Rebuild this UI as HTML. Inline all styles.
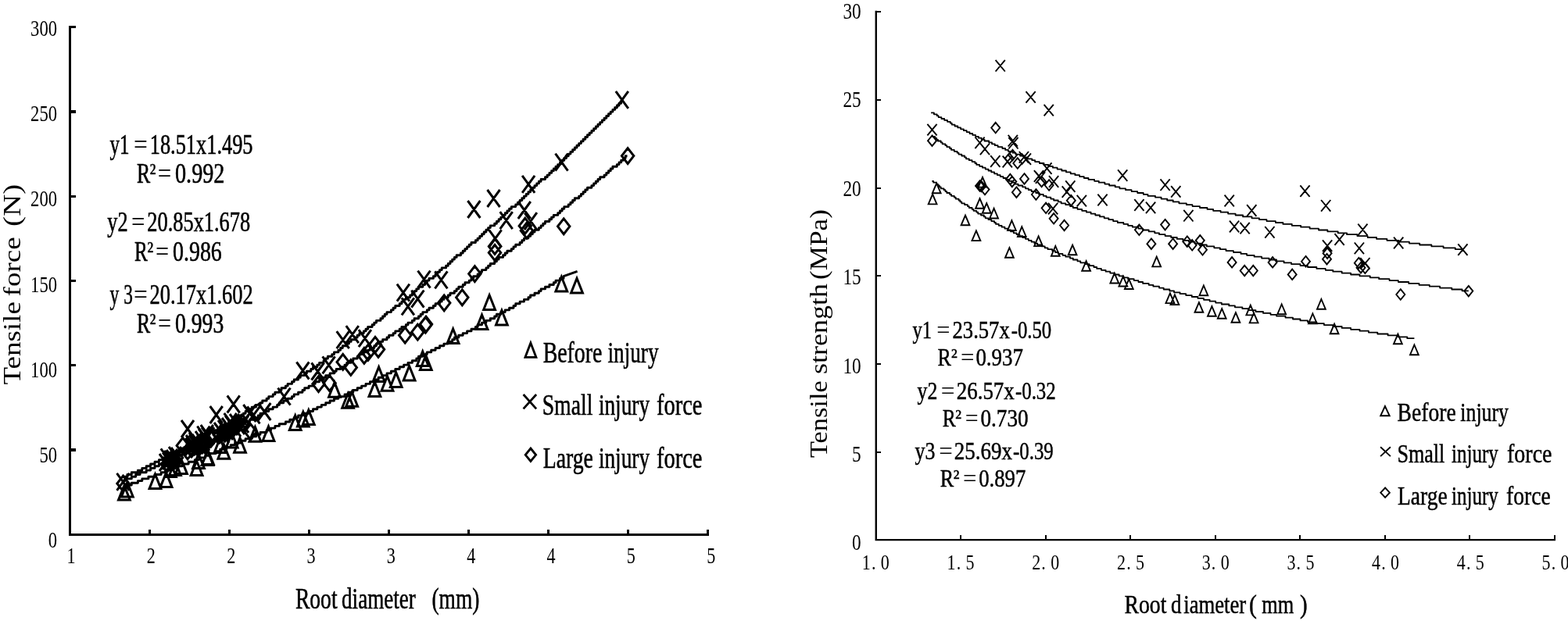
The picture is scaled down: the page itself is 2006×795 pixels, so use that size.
<!DOCTYPE html>
<html lang="en"><head><meta charset="utf-8"><title>Root tensile force and strength</title>
<style>html,body{margin:0;padding:0;background:#fff;overflow:hidden}svg{display:block}text{font-family:"Liberation Serif",serif;fill:#000}</style>
</head><body>
<svg width="2006" height="795" viewBox="0 0 2006 795">
<rect width="2006" height="795" fill="#fff"/>
<g id="left">
<path d="M89.3 33.1V684.3H907" fill="none" stroke="#000" stroke-width="3.2" shape-rendering="crispEdges"/>
<path d="M89.3 684.3H96.8M89.3 576.0H96.8M89.3 467.8H96.8M89.3 359.5H96.8M89.3 251.2H96.8M89.3 142.9H96.8M89.3 34.7H96.8M191.3 684.3V678.3M293.3 684.3V678.3M395.3 684.3V678.3M497.3 684.3V678.3M599.3 684.3V678.3M701.3 684.3V678.3M803.3 684.3V678.3M905.3 684.3V678.3" fill="none" stroke="#000" stroke-width="3.2" shape-rendering="crispEdges"/>
<path d="M157.5 623.7H160.2V621.0H168.3V618.3H176.4V615.6H181.8V612.9H189.9V610.2H198.0V607.5H206.1V604.8H211.5V602.1H219.6V599.4H227.7V596.7H233.1V594.0H241.2V591.3H249.3V588.6H254.7V585.9H262.8V583.2H268.2V580.5H276.3V577.8H281.7V575.1H289.8V572.4H295.2V569.7H300.6V567.0H308.7V564.3H314.1V561.6H322.2V558.9H327.6V556.2H333.0V553.5H341.1V550.8H346.5V548.1H351.9V545.4H357.3V542.7H365.4V540.0H370.8V537.3H376.2V534.6H381.6V531.9H387.0V529.2H395.1V526.5H400.5V523.8H405.9V521.1H411.3V518.4H416.7V515.7H422.1V513.0H427.5V510.3H432.9V507.6H441.0V504.9H446.4V502.2H451.8V499.5H457.2V496.8H462.6V494.1H468.0V491.4H473.4V488.7H478.8V486.0H484.2V483.3H489.6V480.6H495.0V477.9H500.4V475.2H505.8V472.5H511.2V469.8H516.6V467.1H522.0V464.4H527.4V461.7H532.8V459.0H535.5V456.3H540.9V453.6H546.3V450.9H551.7V448.2H557.1V445.5H562.5V442.8H567.9V440.1H573.3V437.4H578.7V434.7H581.4V432.0H586.8V429.3H592.2V426.6H597.6V423.9H603.0V421.2H608.4V418.5H611.1V415.8H616.5V413.1H621.9V410.4H627.3V407.7H632.7V405.0H635.4V402.3H640.8V399.6H646.2V396.9H651.6V394.2H657.0V391.5H659.7V388.8H665.1V386.1H670.5V383.4H675.9V380.7H678.6V378.0H684.0V375.3H689.4V372.6H692.1V369.9H697.5V367.2H702.9V364.5H708.3V361.8H711.0V359.1H716.4V356.4H721.0V353.7H721.0L738.6 347.3M157.5 610.2H162.9V607.5H168.3V604.8H176.4V602.1H181.8V599.4H187.2V596.7H192.6V594.0H198.0V591.3H203.4V588.6H208.8V585.9H214.2V583.2H219.6V580.5H225.0V577.8H230.4V575.1H235.8V572.4H238.5V569.7H243.9V567.0H249.3V564.3H254.7V561.6H260.1V558.9H262.8V556.2H268.2V553.5H273.6V550.8H279.0V548.1H281.7V545.4H287.1V542.7H292.5V540.0H297.9V537.3H300.6V534.6H306.0V531.9H311.4V529.2H314.1V526.5H319.5V523.8H322.2V521.1H327.6V518.4H333.0V515.7H335.7V513.0H341.1V510.3H343.8V507.6H349.2V504.9H351.9V502.2H357.3V499.5H360.0V496.8H365.4V494.1H368.1V491.4H373.5V488.7H376.2V486.0H381.6V483.3H384.3V480.6H389.7V477.9H392.4V475.2H397.8V472.5H400.5V469.8H405.9V467.1H408.6V464.4H414.0V461.7H416.7V459.0H419.4V456.3H424.8V453.6H427.5V450.9H432.9V448.2H435.6V445.5H438.3V442.8H443.7V440.1H446.4V437.4H449.1V434.7H454.5V432.0H457.2V429.3H459.9V426.6H465.3V423.9H468.0V421.2H470.7V418.5H476.1V415.8H478.8V413.1H481.5V410.4H486.9V407.7H489.6V405.0H492.3V402.3H495.0V399.6H500.4V396.9H503.1V394.2H505.8V391.5H511.2V388.8H513.9V386.1H516.6V383.4H519.3V380.7H524.7V378.0H527.4V375.3H530.1V372.6H532.8V369.9H535.5V367.2H540.9V364.5H543.6V361.8H546.3V359.1H549.0V356.4H554.4V353.7H557.1V351.0H559.8V348.3H562.5V345.6H565.2V342.9H570.6V340.2H573.3V337.5H576.0V334.8H578.7V332.1H581.4V329.4H584.1V326.7H589.5V324.0H592.2V321.3H594.9V318.6H597.6V315.9H600.3V313.2H603.0V310.5H608.4V307.8H611.1V305.1H613.8V302.4H616.5V299.7H619.2V297.0H621.9V294.3H624.6V291.6H627.3V288.9H632.7V286.2H635.4V283.5H638.1V280.8H640.8V278.1H643.5V275.4H646.2V272.7H648.9V270.0H651.6V267.3H654.3V264.6H659.7V261.9H662.4V259.2H665.1V256.5H667.8V253.8H670.5V251.1H673.2V248.4H675.9V245.7H678.6V243.0H681.3V240.3H684.0V237.6H686.7V234.9H689.4V232.2H692.1V229.5H697.5V226.8H700.2V224.1H702.9V221.4H705.6V218.7H708.3V216.0H711.0V213.3H713.7V210.6H716.4V207.9H719.1V205.2H721.8V202.5H724.5V199.8H727.2V197.1H729.9V194.4H732.6V191.7H735.3V189.0H738.0V186.3H740.7V183.6H743.4V180.9H746.1V178.2H748.8V175.5H751.5V172.8H754.2V170.1H756.9V167.4H759.6V164.7H762.3V162.0H765.0V159.3H767.7V156.6H770.4V153.9H773.1V151.2H775.8V148.5H778.5V145.8H781.2V143.1H783.9V140.4H786.6V137.7H789.3V135.0H792.0V132.3H794.7V129.6H795.8M157.5 615.6H160.2V612.9H168.3V610.2H173.7V607.5H179.1V604.8H187.2V602.1H192.6V599.4H198.0V596.7H203.4V594.0H211.5V591.3H216.9V588.6H222.3V585.9H227.7V583.2H233.1V580.5H238.5V577.8H246.6V575.1H252.0V572.4H257.4V569.7H262.8V567.0H268.2V564.3H273.6V561.6H279.0V558.9H284.4V556.2H289.8V553.5H292.5V550.8H297.9V548.1H303.3V545.4H308.7V542.7H314.1V540.0H319.5V537.3H324.9V534.6H330.3V531.9H333.0V529.2H338.4V526.5H343.8V523.8H349.2V521.1H354.6V518.4H357.3V515.7H362.7V513.0H368.1V510.3H373.5V507.6H376.2V504.9H381.6V502.2H387.0V499.5H389.7V496.8H395.1V494.1H400.5V491.4H403.2V488.7H408.6V486.0H414.0V483.3H416.7V480.6H422.1V477.9H427.5V475.2H430.2V472.5H435.6V469.8H441.0V467.1H443.7V464.4H449.1V461.7H451.8V459.0H457.2V456.3H459.9V453.6H465.3V450.9H470.7V448.2H473.4V445.5H478.8V442.8H481.5V440.1H486.9V437.4H489.6V434.7H495.0V432.0H497.7V429.3H503.1V426.6H505.8V423.9H511.2V421.2H513.9V418.5H519.3V415.8H522.0V413.1H527.4V410.4H530.1V407.7H535.5V405.0H538.2V402.3H540.9V399.6H546.3V396.9H549.0V394.2H554.4V391.5H557.1V388.8H562.5V386.1H565.2V383.4H567.9V380.7H573.3V378.0H576.0V375.3H581.4V372.6H584.1V369.9H586.8V367.2H592.2V364.5H594.9V361.8H600.3V359.1H603.0V356.4H605.7V353.7H611.1V351.0H613.8V348.3H616.5V345.6H621.9V342.9H624.6V340.2H627.3V337.5H632.7V334.8H635.4V332.1H638.1V329.4H643.5V326.7H646.2V324.0H648.9V321.3H654.3V318.6H657.0V315.9H659.7V313.2H665.1V310.5H667.8V307.8H670.5V305.1H675.9V302.4H678.6V299.7H681.3V297.0H684.0V294.3H689.4V291.6H692.1V288.9H694.8V286.2H697.5V283.5H702.9V280.8H705.6V278.1H708.3V275.4H713.7V272.7H716.4V270.0H719.1V267.3H721.8V264.6H727.2V261.9H729.9V259.2H732.6V256.5H735.3V253.8H740.7V251.1H743.4V248.4H746.1V245.7H748.8V243.0H751.5V240.3H756.9V237.6H759.6V234.9H762.3V232.2H765.0V229.5H767.7V226.8H773.1V224.1H775.8V221.4H778.5V218.7H781.2V216.0H783.9V213.3H789.3V210.6H792.0V207.9H794.7V205.2H797.4V202.5H800.1V199.8H802.5" fill="none" stroke="#000" stroke-width="2.9" stroke-linejoin="round"/>
<path d="M158.9 621.5L166.3 640.1L151.5 640.1ZM162.8 617.3L170.2 635.9L155.4 635.9ZM198.5 607.0L205.9 625.6L191.1 625.6ZM212.6 605.0L220.0 623.6L205.2 623.6ZM218.0 592.0L225.4 610.6L210.6 610.6ZM224.0 590.0L231.4 608.6L216.6 608.6ZM232.0 588.0L239.4 606.6L224.6 606.6ZM251.6 590.0L259.0 608.6L244.2 608.6ZM254.0 581.0L261.4 599.6L246.6 599.6ZM265.5 577.0L272.9 595.6L258.1 595.6ZM266.0 576.0L273.4 594.6L258.6 594.6ZM286.3 568.7L293.7 587.3L278.9 587.3ZM307.0 560.6L314.4 579.2L299.6 579.2ZM326.4 546.6L333.8 565.2L319.0 565.2ZM296.7 554.5L304.1 573.1L289.3 573.1ZM281.5 561.0L288.9 579.6L274.1 579.6ZM343.5 545.8L350.9 564.4L336.1 564.4ZM377.7 531.9L385.1 550.5L370.3 550.5ZM387.8 527.3L395.2 545.9L380.4 545.9ZM394.8 524.9L402.2 543.5L387.4 543.5ZM428.0 489.6L435.4 508.2L420.6 508.2ZM445.1 503.7L452.5 522.3L437.7 522.3ZM450.2 501.7L457.6 520.3L442.8 520.3ZM479.4 489.0L486.8 507.6L472.0 507.6ZM484.6 469.9L492.0 488.5L477.2 488.5ZM495.5 481.6L502.9 500.2L488.1 500.2ZM506.7 476.9L514.1 495.5L499.3 495.5ZM523.6 468.5L531.0 487.1L516.2 487.1ZM540.7 449.8L548.1 468.4L533.3 468.4ZM544.8 454.8L552.2 473.4L537.4 473.4ZM579.6 421.0L587.0 439.6L572.2 439.6ZM626.1 377.8L633.5 396.4L618.7 396.4ZM616.5 403.0L623.9 421.6L609.1 421.6ZM641.9 397.3L649.3 415.9L634.5 415.9ZM718.3 354.3L725.7 372.9L710.9 372.9ZM738.0 356.3L745.4 374.9L730.6 374.9ZM157.5 609.1L165.2 619.0L157.5 628.9L149.8 619.0ZM214.0 584.1L221.7 594.0L214.0 603.9L206.3 594.0ZM219.0 581.1L226.7 591.0L219.0 600.9L211.3 591.0ZM224.0 579.1L231.7 589.0L224.0 598.9L216.3 589.0ZM245.0 565.1L252.7 575.0L245.0 584.9L237.3 575.0ZM249.0 562.1L256.7 572.0L249.0 581.9L241.3 572.0ZM254.0 564.1L261.7 574.0L254.0 583.9L246.3 574.0ZM259.0 560.1L266.7 570.0L259.0 579.9L251.3 570.0ZM264.0 558.1L271.7 568.0L264.0 577.9L256.3 568.0ZM281.0 547.1L288.7 557.0L281.0 566.9L273.3 557.0ZM285.0 544.1L292.7 554.0L285.0 563.9L277.3 554.0ZM291.0 543.1L298.7 553.0L291.0 562.9L283.3 553.0ZM296.0 540.1L303.7 550.0L296.0 559.9L288.3 550.0ZM300.0 537.1L307.7 547.0L300.0 556.9L292.3 547.0ZM305.0 531.1L312.7 541.0L305.0 550.9L297.3 541.0ZM222.0 580.1L229.7 590.0L222.0 599.9L214.3 590.0ZM226.0 576.1L233.7 586.0L226.0 595.9L218.3 586.0ZM233.8 560.5L241.5 570.4L233.8 580.3L226.1 570.4ZM240.0 568.1L247.7 578.0L240.0 587.9L232.3 578.0ZM246.0 564.1L253.7 574.0L246.0 583.9L238.3 574.0ZM252.0 561.1L259.7 571.0L252.0 580.9L244.3 571.0ZM256.0 559.1L263.7 569.0L256.0 578.9L248.3 569.0ZM262.0 556.1L269.7 566.0L262.0 575.9L254.3 566.0ZM270.0 552.1L277.7 562.0L270.0 571.9L262.3 562.0ZM288.0 545.1L295.7 555.0L288.0 564.9L280.3 555.0ZM293.0 541.1L300.7 551.0L293.0 560.9L285.3 551.0ZM298.0 539.1L305.7 549.0L298.0 558.9L290.3 549.0ZM303.0 536.1L310.7 546.0L303.0 555.9L295.3 546.0ZM310.6 531.6L318.3 541.5L310.6 551.4L302.9 541.5ZM320.6 542.9L328.3 552.8L320.6 562.7L312.9 552.8ZM407.5 481.7L415.2 491.6L407.5 501.5L399.8 491.6ZM421.6 480.7L429.3 490.6L421.6 500.5L413.9 490.6ZM438.7 453.5L446.4 463.4L438.7 473.3L431.0 463.4ZM448.8 460.6L456.5 470.5L448.8 480.4L441.1 470.5ZM465.9 445.5L473.6 455.4L465.9 465.3L458.2 455.4ZM470.9 441.4L478.6 451.3L470.9 461.2L463.2 451.3ZM480.0 431.4L487.7 441.3L480.0 451.2L472.3 441.3ZM484.0 437.4L491.7 447.3L484.0 457.2L476.3 447.3ZM518.2 419.3L525.9 429.2L518.2 439.1L510.5 429.2ZM534.3 415.3L542.0 425.2L534.3 435.1L526.6 425.2ZM544.4 406.2L552.1 416.1L544.4 426.0L536.7 416.1ZM545.0 405.1L552.7 415.0L545.0 424.9L537.3 415.0ZM568.2 377.9L575.9 387.8L568.2 397.7L560.5 387.8ZM591.3 370.9L599.0 380.8L591.3 390.7L583.6 380.8ZM607.4 340.7L615.1 350.6L607.4 360.5L599.7 350.6ZM633.0 305.5L640.7 315.4L633.0 325.3L625.3 315.4ZM633.0 313.5L640.7 323.4L633.0 333.3L625.3 323.4ZM671.8 279.3L679.5 289.2L671.8 299.1L664.1 289.2ZM673.9 285.3L681.6 295.2L673.9 305.1L666.2 295.2ZM721.2 279.9L728.9 289.8L721.2 299.7L713.5 289.8ZM803.1 189.7L810.8 199.6L803.1 209.5L795.4 199.6Z" fill="none" stroke="#000" stroke-width="3"/>
<path d="M149.5 605.8L165.5 627.8M165.5 605.8L149.5 627.8M204.0 581.0L220.0 603.0M220.0 581.0L204.0 603.0M208.0 579.0L224.0 601.0M224.0 579.0L208.0 601.0M213.0 576.0L229.0 598.0M229.0 576.0L213.0 598.0M219.0 573.0L235.0 595.0M235.0 573.0L219.0 595.0M238.0 557.0L254.0 579.0M254.0 557.0L238.0 579.0M242.0 554.0L258.0 576.0M258.0 554.0L242.0 576.0M246.0 556.0L262.0 578.0M262.0 556.0L246.0 578.0M250.0 552.0L266.0 574.0M266.0 552.0L250.0 574.0M254.0 549.0L270.0 571.0M270.0 549.0L254.0 571.0M258.0 547.0L274.0 569.0M274.0 547.0L258.0 569.0M274.0 541.0L290.0 563.0M290.0 541.0L274.0 563.0M279.0 538.0L295.0 560.0M295.0 538.0L279.0 560.0M284.0 535.0L300.0 557.0M300.0 535.0L284.0 557.0M288.0 532.0L304.0 554.0M304.0 532.0L288.0 554.0M294.0 530.0L310.0 552.0M310.0 530.0L294.0 552.0M256.8 544.0L272.8 566.0M272.8 544.0L256.8 566.0M252.4 545.7L268.4 567.7M268.4 545.7L252.4 567.7M286.7 529.0L302.7 551.0M302.7 529.0L286.7 551.0M205.8 574.3L221.8 596.3M221.8 574.3L205.8 596.3M210.0 577.0L226.0 599.0M226.0 577.0L210.0 599.0M216.0 572.0L232.0 594.0M232.0 572.0L216.0 594.0M232.0 538.0L248.0 560.0M248.0 538.0L232.0 560.0M237.0 561.0L253.0 583.0M253.0 561.0L237.0 583.0M242.0 557.0L258.0 579.0M258.0 557.0L242.0 579.0M247.0 559.0L263.0 581.0M263.0 559.0L247.0 581.0M252.0 555.0L268.0 577.0M268.0 555.0L252.0 577.0M268.7 520.0L284.7 542.0M284.7 520.0L268.7 542.0M277.0 545.0L293.0 567.0M293.0 545.0L277.0 567.0M282.0 541.0L298.0 563.0M298.0 541.0L282.0 563.0M290.7 506.5L306.7 528.5M306.7 506.5L290.7 528.5M292.0 537.0L308.0 559.0M308.0 537.0L292.0 559.0M297.0 534.0L313.0 556.0M313.0 534.0L297.0 556.0M302.0 532.0L318.0 554.0M318.0 532.0L302.0 554.0M311.4 518.0L327.4 540.0M327.4 518.0L311.4 540.0M316.4 520.4L332.4 542.4M332.4 520.4L316.4 542.4M330.3 516.0L346.3 538.0M346.3 516.0L330.3 538.0M355.5 496.7L371.5 518.7M371.5 496.7L355.5 518.7M379.4 463.5L395.4 485.5M395.4 463.5L379.4 485.5M398.5 464.5L414.5 486.5M414.5 464.5L398.5 486.5M412.6 456.4L428.6 478.4M428.6 456.4L412.6 478.4M430.7 424.2L446.7 446.2M446.7 424.2L430.7 446.2M442.8 417.2L458.8 439.2M458.8 417.2L442.8 439.2M458.9 422.2L474.9 444.2M474.9 422.2L458.9 444.2M507.9 363.7L523.9 385.7M523.9 363.7L507.9 385.7M513.9 381.4L529.9 403.4M529.9 381.4L513.9 403.4M526.4 371.7L542.4 393.7M542.4 371.7L526.4 393.7M534.5 346.6L550.5 368.6M550.5 346.6L534.5 368.6M556.4 347.4L572.4 369.4M572.4 347.4L556.4 369.4M598.4 257.0L614.4 279.0M614.4 257.0L598.4 279.0M623.5 243.0L639.5 265.0M639.5 243.0L623.5 265.0M639.7 271.1L655.7 293.1M655.7 271.1L639.7 293.1M625.6 294.3L641.6 316.3M641.6 294.3L625.6 316.3M662.8 258.0L678.8 280.0M678.8 258.0L662.8 280.0M670.9 272.1L686.9 294.1M686.9 272.1L670.9 294.1M668.1 224.9L684.1 246.9M684.1 224.9L668.1 246.9M710.5 196.7L726.5 218.7M726.5 196.7L710.5 218.7M787.8 116.8L803.8 138.8M803.8 116.8L787.8 138.8" fill="none" stroke="#000" stroke-width="3"/>
<path d="M678.9 438.9L685.9 457.4L671.9 457.4ZM678.9 574.0L685.6 582.3L678.9 590.5L672.2 582.3ZM669.6 505.0L686.1 523.4M686.1 505.0L669.6 523.4" fill="none" stroke="#000" stroke-width="2.8"/>
<text x="140.38" y="196.9" font-size="34.8" textLength="25.02" lengthAdjust="spacingAndGlyphs" stroke="#000" stroke-width="0.6">y1</text>
<text x="171.04" y="196.9" font-size="34.8" textLength="17.86" lengthAdjust="spacingAndGlyphs" stroke="#000" stroke-width="0">=</text>
<text x="191.76" y="196.9" font-size="34.8" textLength="131.74" lengthAdjust="spacingAndGlyphs" stroke="#000" stroke-width="0.6">18.51x1.495</text>
<text x="175.10" y="233.6" font-size="34.8" textLength="17.19" lengthAdjust="spacingAndGlyphs" stroke="#000" stroke-width="0.6">R</text>
<text x="201.63" y="233.6" font-size="34.8" textLength="17.50" lengthAdjust="spacingAndGlyphs" stroke="#000" stroke-width="0">=</text>
<text x="223.99" y="233.6" font-size="34.8" textLength="63.47" lengthAdjust="spacingAndGlyphs" stroke="#000" stroke-width="0.6">0.992</text>
<text x="137.26" y="296.0" font-size="34.8" textLength="26.25" lengthAdjust="spacingAndGlyphs" stroke="#000" stroke-width="0.6">y2</text>
<text x="167.97" y="296.0" font-size="34.8" textLength="17.46" lengthAdjust="spacingAndGlyphs" stroke="#000" stroke-width="0">=</text>
<text x="188.30" y="296.0" font-size="34.8" textLength="131.87" lengthAdjust="spacingAndGlyphs" stroke="#000" stroke-width="0.6">20.85x1.678</text>
<text x="171.98" y="334.0" font-size="34.8" textLength="16.85" lengthAdjust="spacingAndGlyphs" stroke="#000" stroke-width="0.6">R</text>
<text x="199.01" y="334.0" font-size="34.8" textLength="17.13" lengthAdjust="spacingAndGlyphs" stroke="#000" stroke-width="0">=</text>
<text x="221.09" y="334.0" font-size="34.8" textLength="62.69" lengthAdjust="spacingAndGlyphs" stroke="#000" stroke-width="0.6">0.986</text>
<text x="140.57" y="389.0" font-size="34.8" textLength="11.73" lengthAdjust="spacingAndGlyphs" stroke="#000" stroke-width="0.6">y</text>
<text x="158.32" y="389.0" font-size="34.8" textLength="11.65" lengthAdjust="spacingAndGlyphs" stroke="#000" stroke-width="0.6">3</text>
<text x="171.04" y="389.0" font-size="34.8" textLength="17.86" lengthAdjust="spacingAndGlyphs" stroke="#000" stroke-width="0">=</text>
<text x="191.46" y="389.0" font-size="34.8" textLength="132.20" lengthAdjust="spacingAndGlyphs" stroke="#000" stroke-width="0.6">20.17x1.602</text>
<text x="175.10" y="426.0" font-size="34.8" textLength="17.19" lengthAdjust="spacingAndGlyphs" stroke="#000" stroke-width="0.6">R</text>
<text x="202.00" y="426.0" font-size="34.8" textLength="17.15" lengthAdjust="spacingAndGlyphs" stroke="#000" stroke-width="0">=</text>
<text x="224.05" y="426.0" font-size="34.8" textLength="62.21" lengthAdjust="spacingAndGlyphs" stroke="#000" stroke-width="0.6">0.993</text>
<text x="694.66" y="463.9" font-size="38.3" textLength="75.78" lengthAdjust="spacingAndGlyphs" stroke="#000" stroke-width="0.6">Before</text>
<text x="777.50" y="463.9" font-size="38.3" textLength="65.01" lengthAdjust="spacingAndGlyphs" stroke="#000" stroke-width="0.6">injury</text>
<text x="693.73" y="531.2" font-size="38.3" textLength="64.61" lengthAdjust="spacingAndGlyphs" stroke="#000" stroke-width="0.6">Small</text>
<text x="765.90" y="531.2" font-size="38.3" textLength="65.14" lengthAdjust="spacingAndGlyphs" stroke="#000" stroke-width="0.6">injury</text>
<text x="839.96" y="531.2" font-size="38.3" textLength="58.49" lengthAdjust="spacingAndGlyphs" stroke="#000" stroke-width="0.6">force</text>
<text x="694.76" y="599.2" font-size="38.3" textLength="64.17" lengthAdjust="spacingAndGlyphs" stroke="#000" stroke-width="0.6">Large</text>
<text x="765.90" y="599.2" font-size="38.3" textLength="65.14" lengthAdjust="spacingAndGlyphs" stroke="#000" stroke-width="0.6">injury</text>
<text x="839.96" y="599.2" font-size="38.3" textLength="58.49" lengthAdjust="spacingAndGlyphs" stroke="#000" stroke-width="0.6">force</text>
<text x="377.95" y="778.7" font-size="37.9" textLength="53.60" lengthAdjust="spacingAndGlyphs" stroke="#000" stroke-width="0.6">Root</text>
<text x="437.10" y="778.7" font-size="37.9" textLength="94.64" lengthAdjust="spacingAndGlyphs" stroke="#000" stroke-width="0.6">diameter</text>
<text x="552.44" y="778.7" font-size="37.9" textLength="60.93" lengthAdjust="spacingAndGlyphs" stroke="#000" stroke-width="0.6">(mm)</text>
<text transform="translate(25.6 492.48) rotate(-90)" font-size="32.6" textLength="106.30" lengthAdjust="spacingAndGlyphs" stroke="#000" stroke-width="0">Tensile</text>
<text transform="translate(25.6 379.44) rotate(-90)" font-size="32.6" textLength="76.01" lengthAdjust="spacingAndGlyphs" stroke="#000" stroke-width="0">force</text>
<text transform="translate(25.6 290.10) rotate(-90)" font-size="32.6" textLength="54.36" lengthAdjust="spacingAndGlyphs" stroke="#000" stroke-width="0">(N)</text>
<text x="191.5" y="231.9" font-size="32.5" textLength="8.0" lengthAdjust="spacingAndGlyphs" stroke="#000" stroke-width=".4">²</text>
<text x="188.3" y="332.2" font-size="32.5" textLength="8.0" lengthAdjust="spacingAndGlyphs" stroke="#000" stroke-width=".4">²</text>
<text x="191.5" y="424.2" font-size="32.5" textLength="8.0" lengthAdjust="spacingAndGlyphs" stroke="#000" stroke-width=".4">²</text>
<text x="73" y="701.3" font-size="28.4" text-anchor="end" textLength="11.3" lengthAdjust="spacingAndGlyphs">0</text>
<text x="73" y="592.1" font-size="28.4" text-anchor="end" textLength="22.6" lengthAdjust="spacingAndGlyphs">50</text>
<text x="73" y="482.8" font-size="28.4" text-anchor="end" textLength="33.9" lengthAdjust="spacingAndGlyphs">100</text>
<text x="73" y="373.6" font-size="28.4" text-anchor="end" textLength="33.9" lengthAdjust="spacingAndGlyphs">150</text>
<text x="73" y="264.4" font-size="28.4" text-anchor="end" textLength="33.9" lengthAdjust="spacingAndGlyphs">200</text>
<text x="73" y="155.1" font-size="28.4" text-anchor="end" textLength="33.9" lengthAdjust="spacingAndGlyphs">250</text>
<text x="73" y="45.9" font-size="28.4" text-anchor="end" textLength="33.9" lengthAdjust="spacingAndGlyphs">300</text>
<text transform="translate(91.0 720.8) scale(.75 1)" font-size="29.5" text-anchor="middle">1</text>
<text transform="translate(193.3 720.8) scale(.75 1)" font-size="29.5" text-anchor="middle">2</text>
<text transform="translate(295.7 720.8) scale(.75 1)" font-size="29.5" text-anchor="middle">2</text>
<text transform="translate(398.0 720.8) scale(.75 1)" font-size="29.5" text-anchor="middle">3</text>
<text transform="translate(500.4 720.8) scale(.75 1)" font-size="29.5" text-anchor="middle">3</text>
<text transform="translate(602.8 720.8) scale(.75 1)" font-size="29.5" text-anchor="middle">4</text>
<text transform="translate(705.1 720.8) scale(.75 1)" font-size="29.5" text-anchor="middle">4</text>
<text transform="translate(807.4 720.8) scale(.75 1)" font-size="29.5" text-anchor="middle">5</text>
<text transform="translate(909.8 720.8) scale(.75 1)" font-size="29.5" text-anchor="middle">5</text>
</g>
<g id="right">
<path d="M1120.75 13.7V691.1H1990" fill="none" stroke="#000" stroke-width="2.4"/>
<path d="M1120.7 691.2H1127.4M1120.7 578.5H1127.4M1120.7 465.8H1127.4M1120.7 353.2H1127.4M1120.7 240.5H1127.4M1120.7 127.8H1127.4M1120.7 15.1H1127.4M1229.0 691.2V684.6M1337.5 691.2V684.6M1446.1 691.2V684.6M1554.6 691.2V684.6M1663.2 691.2V684.6M1771.7 691.2V684.6M1880.2 691.2V684.6M1988.8 691.2V684.6" fill="none" stroke="#000" stroke-width="2" shape-rendering="crispEdges"/>
<path d="M1192.3 231.8H1194.2V233.7H1198.0V235.6H1199.9V237.5H1201.8V239.4H1203.7V241.3H1207.5V243.2H1209.4V245.1H1211.3V247.0H1215.1V248.9H1217.0V250.8H1220.8V252.7H1222.7V254.6H1226.5V256.5H1228.4V258.4H1230.3V260.3H1234.1V262.2H1237.9V264.1H1239.8V266.0H1243.6V267.9H1245.5V269.8H1249.3V271.7H1251.2V273.6H1255.0V275.5H1258.8V277.4H1260.7V279.3H1264.5V281.2H1268.3V283.1H1272.1V285.0H1274.0V286.9H1277.8V288.8H1281.6V290.7H1285.4V292.6H1289.2V294.5H1293.0V296.4H1296.8V298.3H1300.6V300.2H1304.4V302.1H1308.2V304.0H1312.0V305.9H1315.8V307.8H1319.6V309.7H1323.4V311.6H1327.2V313.5H1332.9V315.4H1336.7V317.3H1340.5V319.2H1346.2V321.1H1350.0V323.0H1353.8V324.9H1359.5V326.8H1363.3V328.7H1369.0V330.6H1372.8V332.5H1378.5V334.4H1382.3V336.3H1388.0V338.2H1393.7V340.1H1399.4V342.0H1403.2V343.9H1408.9V345.8H1414.6V347.7H1420.3V349.6H1426.0V351.5H1431.7V353.4H1437.4V355.3H1443.1V357.2H1450.7V359.1H1456.4V361.0H1462.1V362.9H1469.7V364.8H1475.4V366.7H1483.0V368.6H1488.7V370.5H1496.3V372.4H1502.0V374.3H1509.6V376.2H1517.2V378.1H1524.8V380.0H1532.4V381.9H1540.0V383.8H1547.6V385.7H1555.2V387.6H1562.8V389.5H1572.3V391.4H1579.9V393.3H1589.4V395.2H1597.0V397.1H1606.5V399.0H1616.0V400.9H1625.5V402.8H1633.1V404.7H1644.5V406.6H1654.0V408.5H1663.5V410.4H1673.0V412.3H1684.4V414.2H1693.9V416.1H1705.3V418.0H1716.7V419.9H1728.1V421.8H1739.5V423.7H1750.9V425.6H1762.3V427.5H1775.6V429.4H1788.9V431.3H1800.3V433.2H1809.4M1191.1 144.4H1194.9V146.3H1198.7V148.2H1200.6V150.1H1204.4V152.0H1208.2V153.9H1212.0V155.8H1215.8V157.7H1217.7V159.6H1221.5V161.5H1225.3V163.4H1229.1V165.3H1232.9V167.2H1236.7V169.1H1240.5V171.0H1244.3V172.9H1248.1V174.8H1251.9V176.7H1255.7V178.6H1259.5V180.5H1265.2V182.4H1269.0V184.3H1272.8V186.2H1276.6V188.1H1282.3V190.0H1286.1V191.9H1289.9V193.8H1295.6V195.7H1299.4V197.6H1305.1V199.5H1310.8V201.4H1314.6V203.3H1320.3V205.2H1324.1V207.1H1329.8V209.0H1335.5V210.9H1341.2V212.8H1346.9V214.7H1352.6V216.6H1358.3V218.5H1364.0V220.4H1369.7V222.3H1375.4V224.2H1381.1V226.1H1386.8V228.0H1392.5V229.9H1400.1V231.8H1405.8V233.7H1413.4V235.6H1419.1V237.5H1426.7V239.4H1432.4V241.3H1440.0V243.2H1447.6V245.1H1455.2V247.0H1462.8V248.9H1468.5V250.8H1478.0V252.7H1485.6V254.6H1493.2V256.5H1500.8V258.4H1508.4V260.3H1517.9V262.2H1525.5V264.1H1535.0V266.0H1544.5V267.9H1552.1V269.8H1561.6V271.7H1571.1V273.6H1580.6V275.5H1590.1V277.4H1601.5V279.3H1611.0V281.2H1620.5V283.1H1631.9V285.0H1641.4V286.9H1652.8V288.8H1664.2V290.7H1675.6V292.6H1687.0V294.5H1698.4V296.4H1711.7V298.3H1723.1V300.2H1736.4V302.1H1749.7V304.0H1761.1V305.9H1774.4V307.8H1789.6V309.7H1802.9V311.6H1816.2V313.5H1831.4V315.4H1846.6V317.3H1861.8V319.2H1871.4M1192.3 174.8H1196.1V176.7H1198.0V178.6H1199.9V180.5H1203.7V182.4H1205.6V184.3H1209.4V186.2H1211.3V188.1H1215.1V190.0H1217.0V191.9H1220.8V193.8H1224.6V195.7H1226.5V197.6H1230.3V199.5H1234.1V201.4H1236.0V203.3H1239.8V205.2H1243.6V207.1H1247.4V209.0H1249.3V210.9H1253.1V212.8H1256.9V214.7H1260.7V216.6H1264.5V218.5H1268.3V220.4H1272.1V222.3H1275.9V224.2H1279.7V226.1H1283.5V228.0H1287.3V229.9H1291.1V231.8H1294.9V233.7H1298.7V235.6H1302.5V237.5H1308.2V239.4H1312.0V241.3H1315.8V243.2H1319.6V245.1H1325.3V247.0H1329.1V248.9H1334.8V250.8H1338.6V252.7H1344.3V254.6H1348.1V256.5H1353.8V258.4H1357.6V260.3H1363.3V262.2H1369.0V264.1H1372.8V266.0H1378.5V267.9H1384.2V269.8H1389.9V271.7H1395.6V273.6H1401.3V275.5H1407.0V277.4H1412.7V279.3H1418.4V281.2H1424.1V283.1H1429.8V285.0H1437.4V286.9H1443.1V288.8H1448.8V290.7H1456.4V292.6H1462.1V294.5H1469.7V296.4H1477.3V298.3H1483.0V300.2H1490.6V302.1H1498.2V304.0H1505.8V305.9H1513.4V307.8H1521.0V309.7H1528.6V311.6H1536.2V313.5H1543.8V315.4H1553.3V317.3H1560.9V319.2H1568.5V321.1H1578.0V323.0H1587.5V324.9H1595.1V326.8H1604.6V328.7H1614.1V330.6H1623.6V332.5H1633.1V334.4H1642.6V336.3H1652.1V338.2H1663.5V340.1H1673.0V342.0H1684.4V343.9H1695.8V345.8H1705.3V347.7H1716.7V349.6H1728.1V351.5H1739.5V353.4H1752.8V355.3H1764.2V357.2H1777.5V359.1H1788.9V361.0H1802.2V362.9H1815.5V364.8H1828.8V366.7H1842.1V368.6H1857.3V370.5H1870.6V372.4H1878.8" fill="none" stroke="#000" stroke-width="1.8" stroke-linejoin="round"/>
<path d="M1291.4 317.1L1296.8 329.8L1286.0 329.8ZM1198.2 234.6L1203.6 247.3L1192.8 247.3ZM1193.1 248.7L1198.5 261.4L1187.7 261.4ZM1257.0 226.9L1262.4 239.6L1251.6 239.6ZM1253.5 254.1L1258.9 266.8L1248.1 266.8ZM1262.2 260.1L1267.6 272.8L1256.8 272.8ZM1271.6 266.8L1277.0 279.5L1266.2 279.5ZM1235.0 275.6L1240.4 288.3L1229.6 288.3ZM1248.9 295.4L1254.3 308.1L1243.5 308.1ZM1294.4 282.3L1299.8 295.0L1289.0 295.0ZM1307.3 290.3L1312.7 303.0L1301.9 303.0ZM1328.6 302.4L1334.0 315.1L1323.2 315.1ZM1350.3 315.0L1355.7 327.7L1344.9 327.7ZM1372.1 313.6L1377.5 326.3L1366.7 326.3ZM1389.6 334.1L1395.0 346.8L1384.2 346.8ZM1425.8 349.8L1431.2 362.5L1420.4 362.5ZM1436.9 353.8L1442.3 366.5L1431.5 366.5ZM1444.3 357.3L1449.7 370.0L1438.9 370.0ZM1479.7 328.7L1485.1 341.4L1474.3 341.4ZM1496.9 375.4L1502.3 388.1L1491.5 388.1ZM1502.9 377.4L1508.3 390.1L1497.5 390.1ZM1539.9 365.5L1545.3 378.2L1534.5 378.2ZM1533.9 387.1L1539.3 399.8L1528.5 399.8ZM1550.4 392.1L1555.8 404.8L1545.0 404.8ZM1563.2 395.1L1568.6 407.8L1557.8 407.8ZM1580.9 400.1L1586.3 412.8L1575.5 412.8ZM1599.8 390.7L1605.2 403.4L1594.4 403.4ZM1604.1 400.7L1609.5 413.4L1598.7 413.4ZM1639.7 389.5L1645.1 402.2L1634.3 402.2ZM1690.4 383.0L1695.8 395.7L1685.0 395.7ZM1679.4 401.5L1684.8 414.2L1674.0 414.2ZM1707.1 414.6L1712.5 427.3L1701.7 427.3ZM1788.4 427.6L1793.8 440.3L1783.0 440.3ZM1809.4 441.5L1814.8 454.2L1804.0 454.2ZM1273.7 156.8L1279.2 163.6L1273.7 170.3L1268.2 163.6ZM1192.5 173.4L1198.0 180.2L1192.5 186.9L1187.0 180.2ZM1295.5 191.8L1301.0 198.5L1295.5 205.2L1290.0 198.5ZM1291.3 196.1L1296.8 202.8L1291.3 209.6L1285.8 202.8ZM1301.8 202.2L1307.3 209.0L1301.8 215.8L1296.3 209.0ZM1292.4 222.8L1297.9 229.5L1292.4 236.2L1286.9 229.5ZM1294.8 225.8L1300.3 232.5L1294.8 239.2L1289.3 232.5ZM1310.5 222.2L1316.0 228.9L1310.5 235.7L1305.0 228.9ZM1300.4 239.4L1305.9 246.2L1300.4 252.9L1294.9 246.2ZM1325.4 242.2L1330.9 249.0L1325.4 255.8L1319.9 249.0ZM1253.5 231.2L1259.0 238.0L1253.5 244.8L1248.0 238.0ZM1255.5 231.8L1261.0 238.6L1255.5 245.3L1250.0 238.6ZM1260.0 235.8L1265.5 242.6L1260.0 249.3L1254.5 242.6ZM1332.6 225.8L1338.1 232.5L1332.6 239.2L1327.1 232.5ZM1342.1 230.2L1347.6 237.0L1342.1 243.8L1336.6 237.0ZM1370.3 249.9L1375.8 256.7L1370.3 263.4L1364.8 256.7ZM1338.1 259.6L1343.6 266.3L1338.1 273.1L1332.6 266.3ZM1348.1 273.1L1353.6 279.8L1348.1 286.6L1342.6 279.8ZM1361.6 281.8L1367.1 288.5L1361.6 295.2L1356.1 288.5ZM1457.4 287.6L1462.9 294.3L1457.4 301.1L1451.9 294.3ZM1490.6 280.9L1496.1 287.6L1490.6 294.4L1485.1 287.6ZM1472.9 305.4L1478.4 312.2L1472.9 318.9L1467.4 312.2ZM1500.6 305.4L1506.1 312.2L1500.6 318.9L1495.1 312.2ZM1518.8 302.4L1524.3 309.2L1518.8 315.9L1513.3 309.2ZM1525.2 307.1L1530.7 313.8L1525.2 320.6L1519.7 313.8ZM1535.3 301.1L1540.8 307.8L1535.3 314.6L1529.8 307.8ZM1538.5 313.1L1544.0 319.8L1538.5 326.6L1533.0 319.8ZM1576.1 329.1L1581.6 335.9L1576.1 342.6L1570.6 335.9ZM1628.1 329.1L1633.6 335.9L1628.1 342.6L1622.6 335.9ZM1592.2 339.8L1597.7 346.5L1592.2 353.2L1586.7 346.5ZM1603.3 339.8L1608.8 346.5L1603.3 353.2L1597.8 346.5ZM1653.2 344.6L1658.7 351.4L1653.2 358.1L1647.7 351.4ZM1670.5 327.9L1676.0 334.7L1670.5 341.4L1665.0 334.7ZM1698.1 317.4L1703.6 324.2L1698.1 330.9L1692.6 324.2ZM1697.5 324.9L1703.0 331.7L1697.5 338.4L1692.0 331.7ZM1738.3 329.9L1743.8 336.7L1738.3 343.4L1732.8 336.7ZM1741.0 335.9L1746.5 342.7L1741.0 349.4L1735.5 342.7ZM1746.4 336.6L1751.9 343.3L1746.4 350.1L1740.9 343.3ZM1791.8 370.2L1797.3 377.0L1791.8 383.8L1786.3 377.0ZM1878.8 365.9L1884.3 372.6L1878.8 379.4L1873.3 372.6ZM1273.6 76.9L1285.8 91.5M1285.8 76.9L1273.6 91.5M1312.5 117.1L1324.7 131.7M1324.7 117.1L1312.5 131.7M1335.6 133.8L1347.8 148.4M1347.8 133.8L1335.6 148.4M1186.4 158.8L1198.6 173.4M1198.6 158.8L1186.4 173.4M1247.4 175.5L1259.6 190.1M1259.6 175.5L1247.4 190.1M1253.9 183.5L1266.1 198.1M1266.1 183.5L1253.9 198.1M1267.2 199.2L1279.4 213.8M1279.4 199.2L1267.2 213.8M1289.7 172.9L1301.9 187.5M1301.9 172.9L1289.7 187.5M1290.3 175.9L1302.5 190.5M1302.5 175.9L1290.3 190.5M1282.7 199.7L1294.9 214.3M1294.9 199.7L1282.7 214.3M1306.8 196.3L1319.0 210.9M1319.0 196.3L1306.8 210.9M1303.8 194.0L1316.0 208.6M1316.0 194.0L1303.8 208.6M1333.3 208.3L1345.5 222.9M1345.5 208.3L1333.3 222.9M1322.9 218.2L1335.1 232.8M1335.1 218.2L1322.9 232.8M1324.9 220.2L1337.1 234.8M1337.1 220.2L1324.9 234.8M1342.0 225.2L1354.2 239.8M1354.2 225.2L1342.0 239.8M1363.2 231.3L1375.4 245.9M1375.4 231.3L1363.2 245.9M1358.7 238.3L1370.9 252.9M1370.9 238.3L1358.7 252.9M1377.7 249.8L1389.9 264.4M1389.9 249.8L1377.7 264.4M1404.4 248.7L1416.6 263.3M1416.6 248.7L1404.4 263.3M1341.0 259.8L1353.2 274.4M1353.2 259.8L1341.0 274.4M1430.1 217.3L1442.3 231.9M1442.3 217.3L1430.1 231.9M1451.3 255.2L1463.5 269.8M1463.5 255.2L1451.3 269.8M1466.0 258.6L1478.2 273.2M1478.2 258.6L1466.0 273.2M1484.5 229.4L1496.7 244.0M1496.7 229.4L1484.5 244.0M1498.2 238.1L1510.4 252.7M1510.4 238.1L1498.2 252.7M1514.3 268.9L1526.5 283.5M1526.5 268.9L1514.3 283.5M1566.6 249.7L1578.8 264.3M1578.8 249.7L1566.6 264.3M1595.2 262.2L1607.4 276.8M1607.4 262.2L1595.2 276.8M1573.0 282.7L1585.2 297.3M1585.2 282.7L1573.0 297.3M1586.5 284.8L1598.7 299.4M1598.7 284.8L1586.5 299.4M1618.3 290.0L1630.5 304.6M1630.5 290.0L1618.3 304.6M1692.0 307.3L1704.2 321.9M1704.2 307.3L1692.0 321.9M1707.5 299.2L1719.7 313.8M1719.7 299.2L1707.5 313.8M1737.3 286.7L1749.5 301.3M1749.5 286.7L1737.3 301.3M1732.8 310.5L1745.0 325.1M1745.0 310.5L1732.8 325.1M1740.3 330.0L1752.5 344.6M1752.5 330.0L1740.3 344.6M1663.4 237.3L1675.6 251.9M1675.6 237.3L1663.4 251.9M1690.1 256.0L1702.3 270.6M1702.3 256.0L1690.1 270.6M1783.1 303.7L1795.3 318.3M1795.3 303.7L1783.1 318.3M1865.3 312.3L1877.5 326.9M1877.5 312.3L1865.3 326.9" fill="none" stroke="#000" stroke-width="1.9"/>
<path d="M1771.9 520.0L1777.7 532.3L1766.2 532.3ZM1772.1 624.5L1777.9 630.7L1772.1 636.9L1766.3 630.7ZM1766.1 572.3L1778.9 584.1M1778.9 572.3L1766.1 584.1" fill="none" stroke="#000" stroke-width="1.9"/>
<text x="1167.59" y="433.0" font-size="30.5" textLength="24.38" lengthAdjust="spacingAndGlyphs" stroke="#000" stroke-width="0.5">y1</text>
<text x="1198.28" y="433.0" font-size="30.5" textLength="17.15" lengthAdjust="spacingAndGlyphs" stroke="#000" stroke-width="0">=</text>
<text x="1218.56" y="433.0" font-size="30.5" textLength="73.16" lengthAdjust="spacingAndGlyphs" stroke="#000" stroke-width="0.5">23.57x</text>
<text x="1293.70" y="433.0" font-size="30.5" textLength="51.57" lengthAdjust="spacingAndGlyphs" stroke="#000" stroke-width="0.5">-0.50</text>
<text x="1199.59" y="468.4" font-size="30.5" textLength="17.38" lengthAdjust="spacingAndGlyphs" stroke="#000" stroke-width="0.5">R</text>
<text x="1229.10" y="468.4" font-size="30.5" textLength="17.44" lengthAdjust="spacingAndGlyphs" stroke="#000" stroke-width="0">=</text>
<text x="1248.38" y="468.4" font-size="30.5" textLength="60.52" lengthAdjust="spacingAndGlyphs" stroke="#000" stroke-width="0.5">0.937</text>
<text x="1173.60" y="511.0" font-size="30.5" textLength="25.69" lengthAdjust="spacingAndGlyphs" stroke="#000" stroke-width="0.5">y2</text>
<text x="1203.78" y="511.0" font-size="30.5" textLength="17.73" lengthAdjust="spacingAndGlyphs" stroke="#000" stroke-width="0">=</text>
<text x="1223.77" y="511.0" font-size="30.5" textLength="73.97" lengthAdjust="spacingAndGlyphs" stroke="#000" stroke-width="0.5">26.57x</text>
<text x="1298.92" y="511.0" font-size="30.5" textLength="51.85" lengthAdjust="spacingAndGlyphs" stroke="#000" stroke-width="0.5">-0.32</text>
<text x="1205.79" y="545.9" font-size="30.5" textLength="17.03" lengthAdjust="spacingAndGlyphs" stroke="#000" stroke-width="0.5">R</text>
<text x="1234.63" y="545.9" font-size="30.5" textLength="16.88" lengthAdjust="spacingAndGlyphs" stroke="#000" stroke-width="0">=</text>
<text x="1254.50" y="545.9" font-size="30.5" textLength="61.10" lengthAdjust="spacingAndGlyphs" stroke="#000" stroke-width="0.5">0.730</text>
<text x="1170.60" y="588.0" font-size="30.5" textLength="25.81" lengthAdjust="spacingAndGlyphs" stroke="#000" stroke-width="0.5">y3</text>
<text x="1201.38" y="588.0" font-size="30.5" textLength="17.56" lengthAdjust="spacingAndGlyphs" stroke="#000" stroke-width="0">=</text>
<text x="1220.76" y="588.0" font-size="30.5" textLength="74.10" lengthAdjust="spacingAndGlyphs" stroke="#000" stroke-width="0.5">25.69x</text>
<text x="1296.09" y="588.0" font-size="30.5" textLength="51.69" lengthAdjust="spacingAndGlyphs" stroke="#000" stroke-width="0.5">-0.39</text>
<text x="1202.85" y="622.9" font-size="30.5" textLength="17.42" lengthAdjust="spacingAndGlyphs" stroke="#000" stroke-width="0.5">R</text>
<text x="1232.10" y="622.9" font-size="30.5" textLength="17.44" lengthAdjust="spacingAndGlyphs" stroke="#000" stroke-width="0">=</text>
<text x="1252.16" y="622.9" font-size="30.5" textLength="60.11" lengthAdjust="spacingAndGlyphs" stroke="#000" stroke-width="0.5">0.897</text>
<text x="1787.61" y="539.0" font-size="34" textLength="75.12" lengthAdjust="spacingAndGlyphs" stroke="#000" stroke-width="0.5">Before</text>
<text x="1868.33" y="539.0" font-size="34" textLength="61.59" lengthAdjust="spacingAndGlyphs" stroke="#000" stroke-width="0.5">injury</text>
<text x="1787.39" y="592.2" font-size="34" textLength="61.00" lengthAdjust="spacingAndGlyphs" stroke="#000" stroke-width="0.5">Small</text>
<text x="1857.05" y="592.2" font-size="34" textLength="59.73" lengthAdjust="spacingAndGlyphs" stroke="#000" stroke-width="0.5">injury</text>
<text x="1928.07" y="592.2" font-size="34" textLength="57.40" lengthAdjust="spacingAndGlyphs" stroke="#000" stroke-width="0.5">force</text>
<text x="1787.95" y="645.6" font-size="34" textLength="63.67" lengthAdjust="spacingAndGlyphs" stroke="#000" stroke-width="0.5">Large</text>
<text x="1857.05" y="645.6" font-size="34" textLength="59.73" lengthAdjust="spacingAndGlyphs" stroke="#000" stroke-width="0.5">injury</text>
<text x="1927.11" y="645.6" font-size="34" textLength="56.49" lengthAdjust="spacingAndGlyphs" stroke="#000" stroke-width="0.5">force</text>
<text x="1438.42" y="784.7" font-size="33.4" textLength="53.99" lengthAdjust="spacingAndGlyphs" stroke="#000" stroke-width="0.5">Root</text>
<text x="1497.96" y="784.7" font-size="33.4" textLength="13.46" lengthAdjust="spacingAndGlyphs" stroke="#000" stroke-width="0.5">d</text>
<text x="1514.29" y="784.7" font-size="33.4" textLength="79.97" lengthAdjust="spacingAndGlyphs" stroke="#000" stroke-width="0.5">iameter</text>
<text x="1597.89" y="784.7" font-size="33.4" textLength="9.91" lengthAdjust="spacingAndGlyphs" stroke="#000" stroke-width="0.5">(</text>
<text x="1614.24" y="784.7" font-size="33.4" textLength="40.93" lengthAdjust="spacingAndGlyphs" stroke="#000" stroke-width="0.5">mm</text>
<text x="1663.12" y="784.7" font-size="33.4" textLength="9.64" lengthAdjust="spacingAndGlyphs" stroke="#000" stroke-width="0.5">)</text>
<text transform="translate(1058.3 586.09) rotate(-90)" font-size="30.6" textLength="98.83" lengthAdjust="spacingAndGlyphs" stroke="#000" stroke-width="0">Tensile</text>
<text transform="translate(1058.3 479.00) rotate(-90)" font-size="30.6" textLength="115.90" lengthAdjust="spacingAndGlyphs" stroke="#000" stroke-width="0">strength</text>
<text transform="translate(1058.3 358.03) rotate(-90)" font-size="30.6" textLength="89.96" lengthAdjust="spacingAndGlyphs" stroke="#000" stroke-width="0">(MPa)</text>
<text x="1216.7" y="466.1" font-size="29.0" textLength="8.1" lengthAdjust="spacingAndGlyphs" stroke="#000" stroke-width=".3">²</text>
<text x="1221.9" y="543.6" font-size="29.0" textLength="8.1" lengthAdjust="spacingAndGlyphs" stroke="#000" stroke-width=".3">²</text>
<text x="1219.4" y="620.6" font-size="29.0" textLength="8.1" lengthAdjust="spacingAndGlyphs" stroke="#000" stroke-width=".3">²</text>
<text x="1101.6" y="704.4" font-size="28.4" text-anchor="end" textLength="11.6" lengthAdjust="spacingAndGlyphs">0</text>
<text x="1101.6" y="590.9" font-size="28.4" text-anchor="end" textLength="11.6" lengthAdjust="spacingAndGlyphs">5</text>
<text x="1101.6" y="477.5" font-size="28.4" text-anchor="end" textLength="23.2" lengthAdjust="spacingAndGlyphs">10</text>
<text x="1101.6" y="364.0" font-size="28.4" text-anchor="end" textLength="23.2" lengthAdjust="spacingAndGlyphs">15</text>
<text x="1101.6" y="250.6" font-size="28.4" text-anchor="end" textLength="23.2" lengthAdjust="spacingAndGlyphs">20</text>
<text x="1101.6" y="137.1" font-size="28.4" text-anchor="end" textLength="23.2" lengthAdjust="spacingAndGlyphs">25</text>
<text x="1101.6" y="23.7" font-size="28.4" text-anchor="end" textLength="23.2" lengthAdjust="spacingAndGlyphs">30</text>
<text transform="translate(1120.2 728.9) scale(0.79 1)" x="-15.1 -3.2 15.3" font-size="27.8" text-anchor="middle">1.0</text>
<text transform="translate(1228.9 728.9) scale(0.79 1)" x="-15.1 -3.2 15.3" font-size="27.8" text-anchor="middle">1.5</text>
<text transform="translate(1337.6 728.9) scale(0.79 1)" x="-15.1 -3.2 15.3" font-size="27.8" text-anchor="middle">2.0</text>
<text transform="translate(1446.4 728.9) scale(0.79 1)" x="-15.1 -3.2 15.3" font-size="27.8" text-anchor="middle">2.5</text>
<text transform="translate(1555.1 728.9) scale(0.79 1)" x="-15.1 -3.2 15.3" font-size="27.8" text-anchor="middle">3.0</text>
<text transform="translate(1663.8 728.9) scale(0.79 1)" x="-15.1 -3.2 15.3" font-size="27.8" text-anchor="middle">3.5</text>
<text transform="translate(1772.5 728.9) scale(0.79 1)" x="-15.1 -3.2 15.3" font-size="27.8" text-anchor="middle">4.0</text>
<text transform="translate(1881.2 728.9) scale(0.79 1)" x="-15.1 -3.2 15.3" font-size="27.8" text-anchor="middle">4.5</text>
<text transform="translate(1990.0 728.9) scale(0.79 1)" x="-15.1 -3.2 15.3" font-size="27.8" text-anchor="middle">5.0</text>
</g>
</svg>
</body></html>
